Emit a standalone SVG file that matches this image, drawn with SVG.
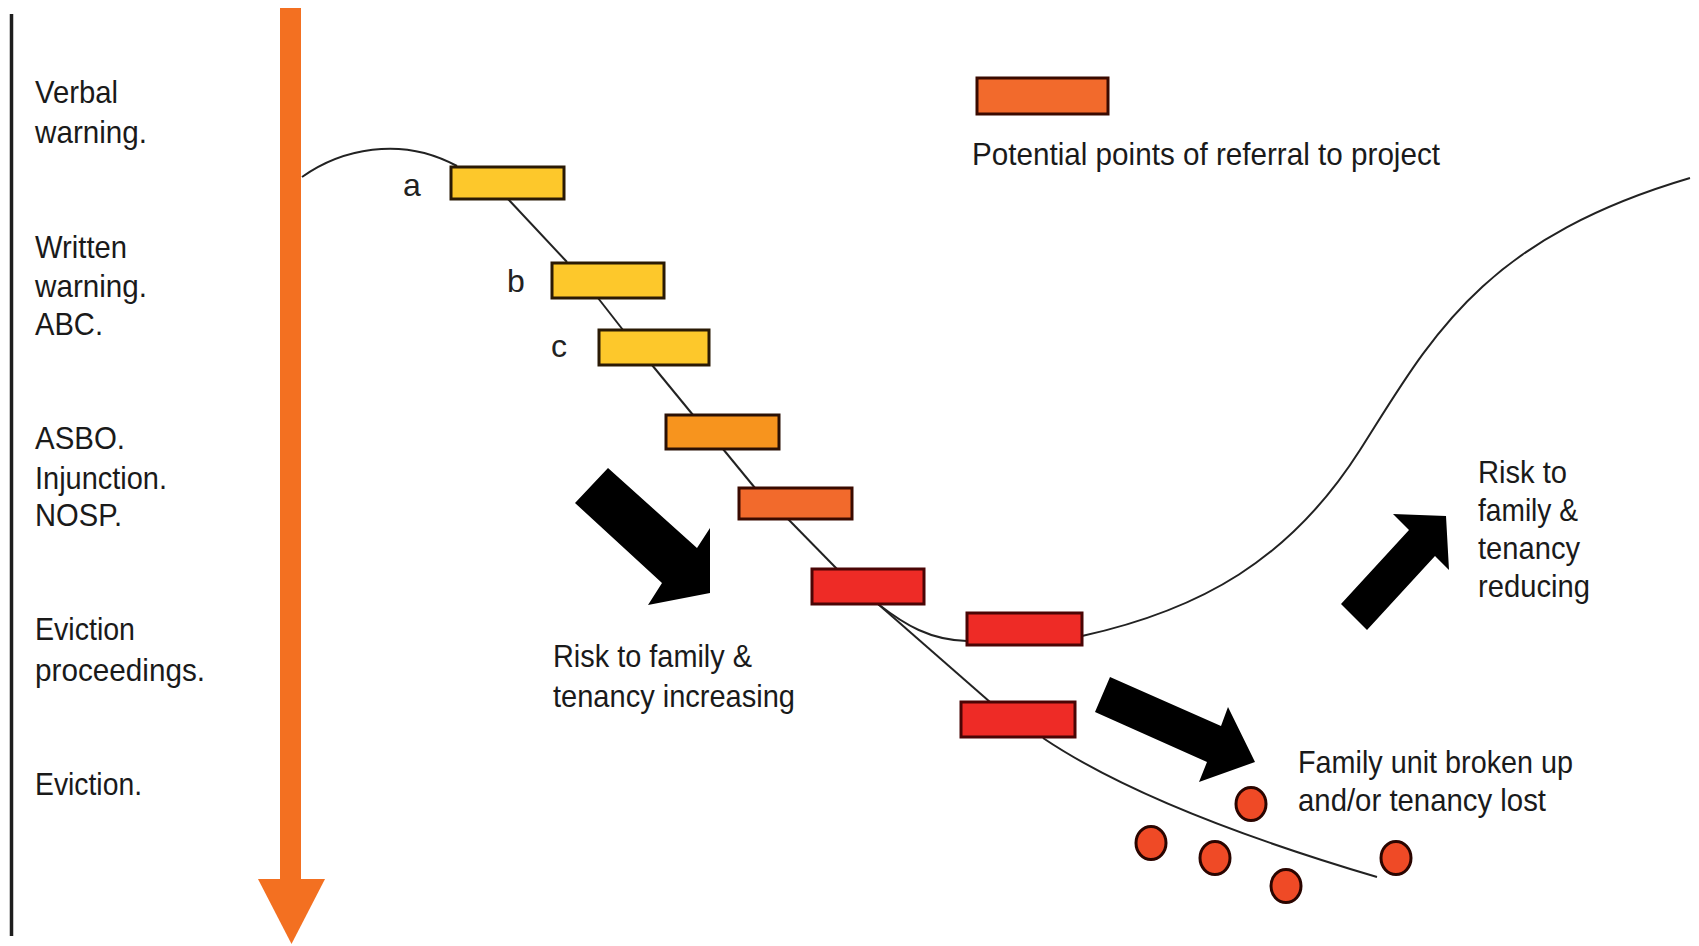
<svg xmlns="http://www.w3.org/2000/svg" width="1699" height="946" viewBox="0 0 1699 946">
  <style>
    .t { font-family: "Liberation Sans", Arial, sans-serif; font-size: 32px; fill: #1a1a1a; }
    .lbl { font-family: "Liberation Sans", Arial, sans-serif; font-size: 32px; fill: #222; }
    .box { stroke-width: 3; }
    .yel { fill: #FDC82B; stroke: #2a1a05; }
    .org { fill: #F7941E; stroke: #2a1005; }
    .ored { fill: #F26A2C; stroke: #3a0a00; }
    .red { fill: #EE2B26; stroke: #4a0505; }
    .line { fill: none; stroke: #222; stroke-width: 2; }
    .dot { fill: #EF4A26; stroke: #2a0500; stroke-width: 3; }
    .blk { fill: #000; }
  </style>
  <rect width="1699" height="946" fill="#fff"/>

  <!-- left vertical rule -->
  <line x1="11.5" y1="14" x2="11.5" y2="936" stroke="#1e1e1e" stroke-width="3.5"/>

  <!-- orange time arrow -->
  <g id="time-arrow">
    <rect x="280" y="8" width="21" height="874" fill="#F37021"/>
    <polygon points="258,879 325,879 291.5,944" fill="#F37021"/>
  </g>

  <!-- stage labels -->
  <g id="stage-labels">
    <text class="t" x="35" y="103" textLength="83" lengthAdjust="spacingAndGlyphs">Verbal</text>
    <text class="t" x="35" y="143" textLength="112" lengthAdjust="spacingAndGlyphs">warning.</text>
    <text class="t" x="35" y="258" textLength="92" lengthAdjust="spacingAndGlyphs">Written</text>
    <text class="t" x="35" y="297" textLength="112" lengthAdjust="spacingAndGlyphs">warning.</text>
    <text class="t" x="35" y="335" textLength="68" lengthAdjust="spacingAndGlyphs">ABC.</text>
    <text class="t" x="35" y="449" textLength="90" lengthAdjust="spacingAndGlyphs">ASBO.</text>
    <text class="t" x="35" y="489" textLength="132" lengthAdjust="spacingAndGlyphs">Injunction.</text>
    <text class="t" x="35" y="526" textLength="87" lengthAdjust="spacingAndGlyphs">NOSP.</text>
    <text class="t" x="35" y="640" textLength="100" lengthAdjust="spacingAndGlyphs">Eviction</text>
    <text class="t" x="35" y="681" textLength="170" lengthAdjust="spacingAndGlyphs">proceedings.</text>
    <text class="t" x="35" y="795" textLength="107" lengthAdjust="spacingAndGlyphs">Eviction.</text>
  </g>

  <!-- connectors -->
  <g id="connectors">
    <path class="line" d="M302,177 C340,150 400,135 457,166"/>
    <line class="line" x1="508" y1="199" x2="567" y2="262"/>
    <line class="line" x1="598" y1="298" x2="623" y2="330"/>
    <line class="line" x1="652" y1="365" x2="693" y2="415"/>
    <line class="line" x1="723" y1="449" x2="755" y2="488"/>
    <line class="line" x1="788" y1="519" x2="837" y2="569"/>
    <path class="line" d="M878,604 C905,625 930,640 967,641"/>
    <line class="line" x1="878" y1="604" x2="990" y2="702"/>
    <path class="line" d="M1082,636 C1200,610 1290,560 1360,450 C1430,340 1480,240 1690,178"/>
    <path class="line" d="M1043,738 Q1150,810 1377,877"/>
  </g>

  <!-- referral point boxes -->
  <g id="box-a"><rect class="box yel" x="451" y="167" width="113" height="32"/></g>
  <g id="box-b"><rect class="box yel" x="552" y="263" width="112" height="35"/></g>
  <g id="box-c"><rect class="box yel" x="599" y="330" width="110" height="35"/></g>
  <g id="box-d"><rect class="box org" x="666" y="415" width="113" height="34"/></g>
  <g id="box-e"><rect class="box ored" x="739" y="488" width="113" height="31"/></g>
  <g id="box-f"><rect class="box red" x="812" y="569" width="112" height="35"/></g>
  <g id="box-g"><rect class="box red" x="967" y="613" width="115" height="32"/></g>
  <g id="box-h"><rect class="box red" x="961" y="702" width="114" height="35"/></g>

  <g id="step-labels">
    <text class="lbl" x="403" y="196">a</text>
    <text class="lbl" x="507" y="292">b</text>
    <text class="lbl" x="551" y="357">c</text>
  </g>

  <!-- legend -->
  <g id="legend">
    <rect class="box ored" x="977" y="78" width="131" height="36"/>
    <text class="t" x="972" y="165" textLength="468" lengthAdjust="spacingAndGlyphs">Potential points of referral to project</text>
  </g>

  <!-- black block arrows -->
  <g id="arrow-increasing">
    <polygon class="blk" points="608,468 697,548 710,528 710,593 648,605 662,583 575,503"/>
    <text class="t" x="553" y="667" textLength="199" lengthAdjust="spacingAndGlyphs">Risk to family &amp;</text>
    <text class="t" x="553" y="707" textLength="242" lengthAdjust="spacingAndGlyphs">tenancy increasing</text>
  </g>

  <g id="arrow-reducing">
    <polygon class="blk" points="1341,604 1409,530 1393,514 1446,516 1449,570 1435,556 1367,630"/>
    <text class="t" x="1478" y="483" textLength="89" lengthAdjust="spacingAndGlyphs">Risk to</text>
    <text class="t" x="1478" y="521" textLength="100" lengthAdjust="spacingAndGlyphs">family &amp;</text>
    <text class="t" x="1478" y="559" textLength="102" lengthAdjust="spacingAndGlyphs">tenancy</text>
    <text class="t" x="1478" y="597" textLength="112" lengthAdjust="spacingAndGlyphs">reducing</text>
  </g>

  <g id="arrow-lost">
    <polygon class="blk" points="1110,677 1221,726 1228,707 1255,762 1199,782 1207,762 1095,712"/>
    <text class="t" x="1298" y="773" textLength="275" lengthAdjust="spacingAndGlyphs">Family unit broken up</text>
    <text class="t" x="1298" y="811" textLength="248" lengthAdjust="spacingAndGlyphs">and/or tenancy lost</text>
  </g>

  <!-- scattered family dots -->
  <g id="dots">
    <ellipse class="dot" cx="1251" cy="804" rx="15" ry="16.5"/>
    <ellipse class="dot" cx="1151" cy="843" rx="15" ry="16.5"/>
    <ellipse class="dot" cx="1215" cy="858" rx="15" ry="16.5"/>
    <ellipse class="dot" cx="1286" cy="886" rx="15" ry="16.5"/>
    <ellipse class="dot" cx="1396" cy="858" rx="15" ry="16.5"/>
  </g>
</svg>
